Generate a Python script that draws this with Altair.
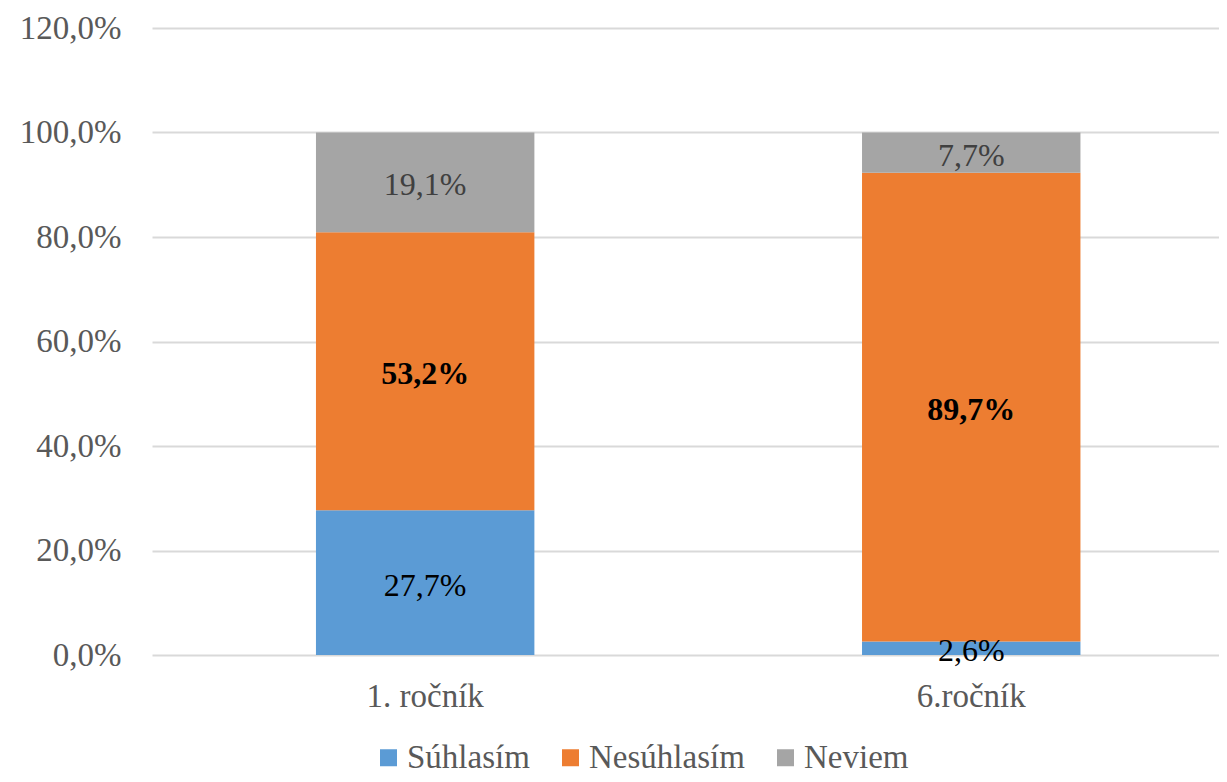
import altair as alt
import pandas as pd

categories = ["1. ročník", "6.ročník"]
series = ["Súhlasím", "Nesúhlasím", "Neviem"]
suhlasim = [27.7, 2.6]
nesuhlasim = [53.2, 89.7]
neviem = [19.1, 7.7]
colors = ["#5B9BD5", "#ED7D31", "#A5A5A5"]
y_ticks = [0, 20, 40, 60, 80, 100, 120]

rows = []
for i, cat in enumerate(categories):
    start = 0.0
    for s, vals in zip(series, [suhlasim, nesuhlasim, neviem]):
        v = vals[i]
        rows.append({
            "cat": cat, "series": s, "value": v,
            "start": start, "end": start + v, "mid": start + v / 2,
            "label": f"{v:.1f}%".replace(".", ","),
        })
        start += v
df = pd.DataFrame(rows)

FONT = "Liberation Serif"

x = alt.X("cat:N", sort=categories, title=None,
          scale=alt.Scale(paddingInner=0.6, paddingOuter=0.277, align=0.542),
          axis=alt.Axis(labelAngle=0, labelFont=FONT, labelFontSize=33,
                        labelColor="#595959", labelPadding=25, ticks=False,
                        domain=False, grid=False))
y_axis = alt.Axis(values=y_ticks, labelFont=FONT, labelFontSize=33,
                  labelColor="#595959", labelPadding=31, ticks=False,
                  domain=False, gridColor="#D9D9D9", gridWidth=2,
                  labelExpr="replace(format(datum.value, '.1f'), '.', ',') + '%'")

base = alt.Chart(df)

bars = base.mark_bar().encode(
    x=x,
    y=alt.Y("start:Q", scale=alt.Scale(domain=[0, 120], nice=False), axis=y_axis, title=None),
    y2="end:Q",
    color=alt.Color("series:N", sort=series,
                    scale=alt.Scale(domain=series, range=colors),
                    legend=alt.Legend(title=None, orient="none", direction="horizontal",
                                      legendX=220, legendY=713, symbolType="square",
                                      symbolSize=289, symbolStrokeWidth=0,
                                      labelFont=FONT, labelFontSize=33,
                                      labelColor="#595959", columnPadding=24,
                                      labelOffset=2)),
)

def labels(series_name, color, weight):
    return base.transform_filter(alt.datum.series == series_name).mark_text(
        font=FONT, fontSize=32, color=color, fontWeight=weight, baseline="middle", dy=3
    ).encode(
        x=alt.X("cat:N", sort=categories),
        y=alt.Y("mid:Q"),
        text="label:N",
    )

chart = alt.layer(
    bars,
    labels("Súhlasím", "#000000", "normal"),
    labels("Nesúhlasím", "#000000", "bold"),
    labels("Neviem", "#404040", "normal"),
).properties(
    width=1067, height=627,
    autosize=alt.AutoSizeParams(type="none"),
    padding={"left": 144, "top": 20, "right": 0, "bottom": 119},
).configure_view(stroke=None)

chart.save("out.html", embed_options={"renderer": "svg", "actions": False})
